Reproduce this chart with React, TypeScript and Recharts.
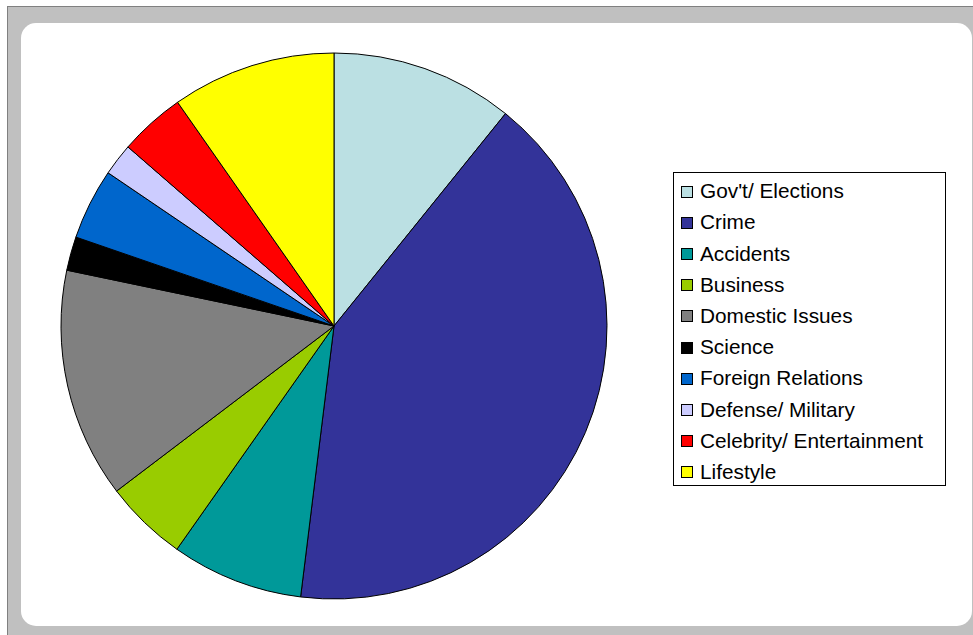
import { Cell, Legend, Pie, PieChart } from "recharts";

const categories = [
  "Gov't/ Elections",
  "Crime",
  "Accidents",
  "Business",
  "Domestic Issues",
  "Science",
  "Foreign Relations",
  "Defense/ Military",
  "Celebrity/ Entertainment",
  "Lifestyle",
];

const shares = [10.8, 41.1, 7.8, 4.9, 13.6, 2.0, 4.2, 1.9, 3.9, 9.7];

const colors = [
  "#BBE0E3",
  "#333399",
  "#009999",
  "#99CC00",
  "#808080",
  "#000000",
  "#0066CC",
  "#CCCCFF",
  "#FF0000",
  "#FFFF00",
];

const data = categories.map((name, i) => ({ name, value: shares[i] }));

const FONT = '"Liberation Sans", Arial, sans-serif';

function LegendBox() {
  return (
    <div
      style={{
        boxSizing: "border-box",
        width: 273,
        height: 314,
        border: "1px solid #000",
        background: "#fff",
        padding: "3px 0 0 7px",
        fontFamily: FONT,
        fontSize: 20.8,
        color: "#000",
      }}
    >
      {categories.map((name, i) => (
        <div
          key={name}
          style={{ display: "flex", alignItems: "center", height: 31.2 }}
        >
          <span
            style={{
              boxSizing: "border-box",
              width: 12,
              height: 12,
              background: colors[i],
              border: "1px solid #000",
              marginRight: 7,
              flexShrink: 0,
            }}
          />
          <span style={{ whiteSpace: "nowrap", lineHeight: 1 }}>{name}</span>
        </div>
      ))}
    </div>
  );
}

export default function App() {
  return (
    <div
      style={{
        position: "absolute",
        left: 0,
        top: 0,
        width: 973,
        height: 635,
        overflow: "hidden",
        background: "#fff",
      }}
    >
      <div
        style={{
          position: "absolute",
          left: 7,
          top: 6,
          width: 990,
          height: 628,
          background: "#c0c0c0",
          border: "1px solid #808080",
        }}
      />
      <div
        style={{
          position: "absolute",
          left: 21,
          top: 23,
          width: 951,
          height: 603,
          background: "#fff",
          borderRadius: 15,
        }}
      />
      <div style={{ position: "absolute", left: 0, top: 0 }}>
        <PieChart
          width={973}
          height={635}
          margin={{ top: 0, right: 0, bottom: 0, left: 0 }}
        >
          <Pie
            data={data}
            dataKey="value"
            nameKey="name"
            cx={334}
            cy={326}
            outerRadius={273}
            startAngle={90}
            endAngle={-270}
            stroke="#000"
            strokeWidth={1}
            isAnimationActive={false}
          >
            {data.map((d, i) => (
              <Cell key={d.name} fill={colors[i]} />
            ))}
          </Pie>
          <Legend
            content={() => <LegendBox />}
            wrapperStyle={{ left: 673, top: 172, width: 273, height: 314 }}
          />
        </PieChart>
      </div>
    </div>
  );
}
